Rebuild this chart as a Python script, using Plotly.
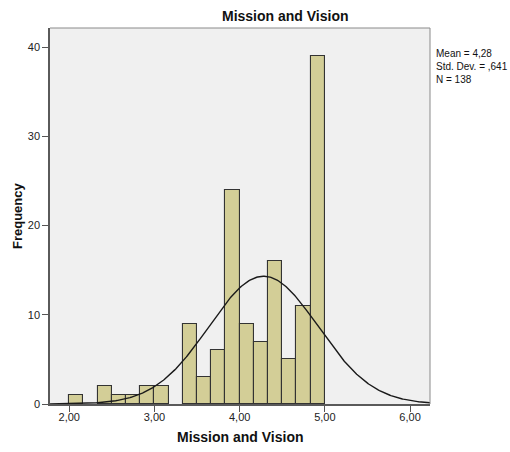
import numpy as np
import plotly.graph_objects as go

# Histogram of "Mission and Vision" scores (bin width 1/6)
bin_width = 1 / 6
bin_starts = [2.0, 2.3333, 2.5, 2.6667, 2.8333, 3.0,
              3.3333, 3.5, 3.6667, 3.8333, 4.0, 4.1667,
              4.3333, 4.5, 4.6667, 4.8333]
counts = [1, 2, 1, 1, 2, 2, 9, 3, 6, 24, 9, 7, 16, 5, 11, 39]

# Summary statistics shown beside the plot
mean_val = 4.28
std_val = 0.641
n_val = 138

x_ticks = [2, 3, 4, 5, 6]
x_tick_text = ["2,00", "3,00", "4,00", "5,00", "6,00"]
y_ticks = [0, 10, 20, 30, 40]

x_range = [1.774, 6.234]
y_range = [0, 42.13]

bar_centers = [s + bin_width / 2 for s in bin_starts]

# Fitted normal curve scaled to counts per bin
xc = np.linspace(x_range[0], x_range[1], 400)
yc = n_val * bin_width / (std_val * np.sqrt(2 * np.pi)) * np.exp(-0.5 * ((xc - mean_val) / std_val) ** 2)

fig = go.Figure()
fig.add_trace(go.Bar(
    x=bar_centers, y=counts, width=bin_width,
    marker=dict(color="rgb(211,206,151)", line=dict(color="#333333", width=1.1)),
    hoverinfo="x+y", showlegend=False,
))
fig.add_trace(go.Scatter(
    x=xc, y=yc, mode="lines",
    line=dict(color="#1a1a1a", width=1.4),
    hoverinfo="skip", showlegend=False,
))

font_family = "Liberation Sans, Arial, sans-serif"

fig.update_layout(
    width=510, height=452,
    margin=dict(l=50, r=80, t=28, b=48),
    paper_bgcolor="white",
    plot_bgcolor="#f0f0f0",
    bargap=0,
    font=dict(family=font_family, color="#222222"),
    xaxis=dict(
        range=x_range, tickvals=x_ticks, ticktext=x_tick_text,
        ticks="outside", ticklen=6, tickcolor="#555555", tickwidth=1,
        ticklabelstandoff=-4,
        tickfont=dict(size=11, color="#222222"),
        showgrid=False, zeroline=False,
        showline=True, linecolor="#5a5a5a", linewidth=1.5,
        mirror=False,
    ),
    yaxis=dict(
        range=y_range, tickvals=y_ticks,
        ticks="outside", ticklen=6, tickcolor="#555555", tickwidth=1,
        tickfont=dict(size=11, color="#222222"),
        showgrid=False, zeroline=False,
        showline=True, linecolor="#5a5a5a", linewidth=1.5,
    ),
    shapes=[
        # top and right frame edges
        dict(type="line", xref="paper", yref="paper", x0=0, x1=1, y0=1, y1=1,
             line=dict(color="#8a8a8a", width=1)),
        dict(type="line", xref="paper", yref="paper", x0=1, x1=1, y0=0, y1=1,
             line=dict(color="#8a8a8a", width=1)),
    ],
    annotations=[
        dict(text="<b>Mission and Vision</b>", xref="paper", yref="paper",
             x=(285 - 50) / 380, y=1 + 12 / 376, xanchor="center", yanchor="middle",
             showarrow=False, font=dict(size=14, color="#111111")),
        dict(text="<b>Mission and Vision</b>", xref="paper", yref="paper",
             x=0.5, y=-33 / 376, xanchor="center", yanchor="middle",
             showarrow=False, font=dict(size=14, color="#111111")),
        dict(text="<b>Frequency</b>", xref="paper", yref="paper",
             x=-33 / 380, y=(404 - 216) / 376, xanchor="center", yanchor="middle",
             textangle=-90, showarrow=False, font=dict(size=13, color="#111111")),
        dict(text="Mean = 4,28<br>Std. Dev. = ,641<br>N = 138", xref="paper", yref="paper",
             x=(434 - 50) / 380, y=(404 - 46) / 376, xanchor="left", yanchor="top",
             align="left", showarrow=False, font=dict(size=10, color="#111111")),
    ],
)

fig.write_html("out.html")
